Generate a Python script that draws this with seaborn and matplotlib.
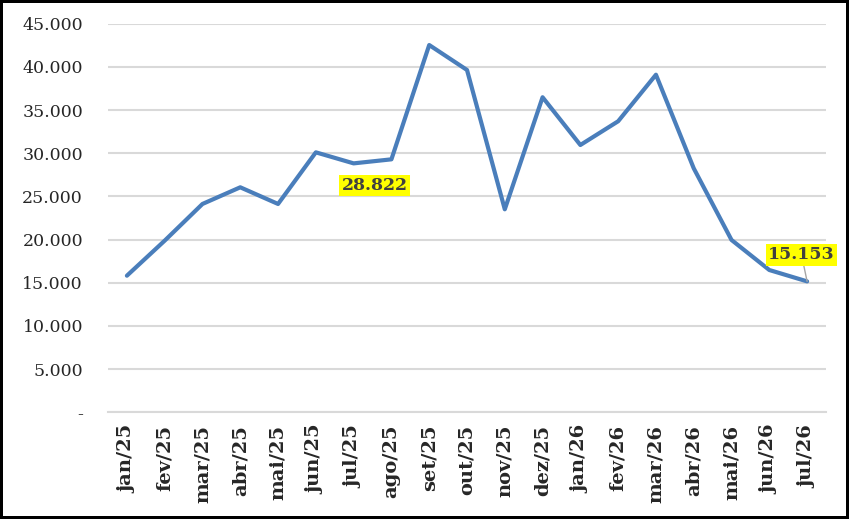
import numpy as np
import pandas as pd
import matplotlib
matplotlib.use("Agg")
import matplotlib.pyplot as plt
from matplotlib.ticker import FuncFormatter, FixedLocator
import seaborn as sns

# monthly values
months = ["jan/25", "fev/25", "mar/25", "abr/25", "mai/25", "jun/25", "jul/25",
          "ago/25", "set/25", "out/25", "nov/25", "dez/25", "jan/26", "fev/26",
          "mar/26", "abr/26", "mai/26", "jun/26", "jul/26"]
values = [15810, 19870, 24120, 26050, 24120, 30100, 28822,
          29290, 42530, 39640, 23500, 36480, 30950, 33700,
          39090, 28250, 19950, 16470, 15153]
y_ticks = [0, 5000, 10000, 15000, 20000, 25000, 30000, 35000, 40000, 45000]
labelled = ["jul/25", "jul/26"]

df = pd.DataFrame({"mes": months, "valor": values})
df["pos"] = np.arange(len(df))

sns.set_style("white")
plt.rcParams["font.family"] = ["DejaVu Serif"]

fig = plt.figure(figsize=(8.49, 5.19), dpi=100, linewidth=3, edgecolor="black")
ax = fig.add_axes([108 / 849, 1 - 412.2 / 519, (826 - 108) / 849, (412.2 - 23.7) / 519])

sns.lineplot(data=df, x="pos", y="valor", ax=ax, color="#4a7ebb", linewidth=3, zorder=3)

ax.set_xlim(-0.5, len(df) - 0.5)
ax.set_ylim(0, 45000)
ax.set_yticks(y_ticks)
ax.yaxis.set_major_formatter(FuncFormatter(
    lambda v, p: "-" if v == 0 else f"{int(v):,}".replace(",", ".")))
ax.grid(axis="y", color="#d9d9d9", linewidth=1.5, zorder=0)
ax.grid(axis="x", visible=False)

ax.set_xticks(df["pos"])
ax.set_xticklabels(df["mes"], rotation=90, fontweight="bold", fontsize=14)
ax.xaxis.set_minor_locator(FixedLocator(np.arange(-0.5, len(df), 1)))
ax.tick_params(axis="x", which="major", length=0, pad=9)
ax.tick_params(axis="x", which="minor", length=7, width=1.5, color="#d9d9d9", direction="out")
ax.tick_params(axis="y", length=0, labelsize=12.5, pad=18)
ax.set_xlabel("")
ax.set_ylabel("")

for s in ["top", "right", "left"]:
    ax.spines[s].set_visible(False)
ax.spines["bottom"].set_color("#d9d9d9")
ax.spines["bottom"].set_linewidth(1.5)

# data labels with yellow highlight
offsets = {"jul/25": (15, -16), "jul/26": (-4, 19)}
for m in labelled:
    row = df[df["mes"] == m].iloc[0]
    txt = f"{int(row['valor']):,}".replace(",", ".")
    arrow = dict(arrowstyle="-", color="#a6a6a6", lw=1, shrinkA=0, shrinkB=0) if m == "jul/26" else None
    ax.annotate(txt, xy=(row["pos"], row["valor"]), xytext=offsets[m],
                textcoords="offset points", ha="center", va="center",
                fontsize=12.5, fontweight="bold", color="#404040",
                bbox=dict(boxstyle="square,pad=0.12", facecolor="yellow", edgecolor="none"),
                arrowprops=arrow, zorder=5)

fig.savefig("out.png", dpi=100)
